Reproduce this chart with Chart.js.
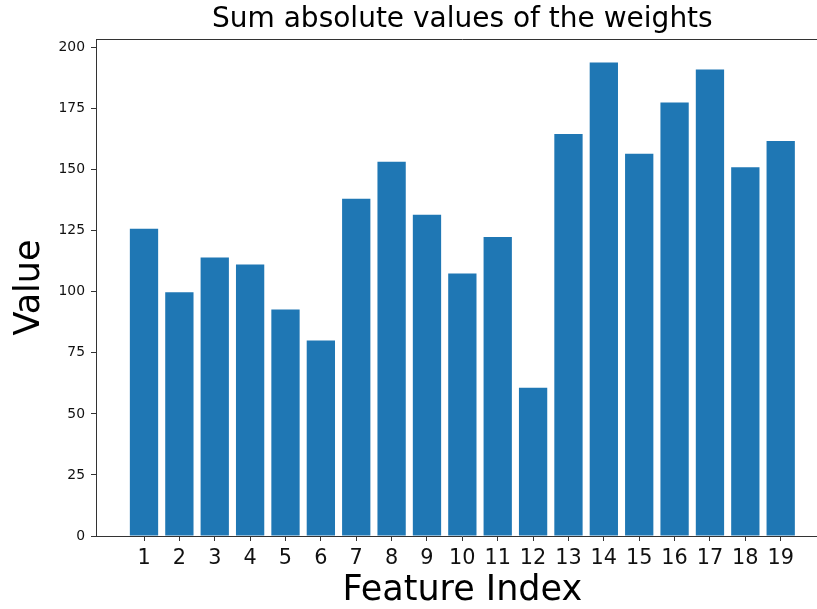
<!DOCTYPE html>
<html>
<head>
<meta charset="utf-8">
<script src="https://cdn.jsdelivr.net/npm/chart.js@4.4.0/dist/chart.umd.min.js"></script>
<style>
    html, body { margin: 0; padding: 0; background: #fff; overflow: hidden; }
    #wrap { width: 830px; height: 609px; position: relative; }
</style>
</head>
<body>
<div id="wrap"><canvas id="weightChart"></canvas></div>
<script>
// 데이터
const features = [1, 2, 3, 4, 5, 6, 7, 8, 9, 10, 11, 12, 13, 14, 15, 16, 17, 18, 19];
const weightSums = [125.8, 99.8, 114.1, 111.2, 92.8, 80.1, 138.1, 153.3, 131.6, 107.5,
                    122.5, 60.7, 164.6, 193.9, 156.6, 177.5, 191.1, 151.0, 161.8];
const yTicks = [0, 25, 50, 75, 100, 125, 150, 175, 200];

const FONT = 'DejaVu Sans';
const AXIS_COLOR = '#333';

// 위쪽/오른쪽 테두리
const frameLines = {
    id: 'frameLines',
    afterDraw(chart) {
        const { ctx, chartArea: a } = chart;
        ctx.save();
        ctx.strokeStyle = AXIS_COLOR;
        ctx.lineWidth = 1;
        ctx.beginPath();
        ctx.moveTo(a.left, a.top + 0.5);
        ctx.lineTo(a.right, a.top + 0.5);
        ctx.lineTo(a.right, a.bottom);
        ctx.stroke();
        ctx.restore();
    }
};

const ctx = document.getElementById('weightChart').getContext('2d');

new Chart(ctx, {
    type: 'bar',
    data: {
        datasets: [{
            data: features.map((f, i) => ({ x: f, y: weightSums[i] })),
            backgroundColor: '#1f77b4',
            borderWidth: 0,
            categoryPercentage: 1.0,
            barPercentage: 0.8
        }]
    },
    plugins: [frameLines],
    options: {
        responsive: true,
        maintainAspectRatio: false,
        animation: false,
        devicePixelRatio: 1,
        layout: { padding: { left: 0, right: 1.3, top: 0, bottom: 0 } },
        scales: {
            x: {
                type: 'linear',
                offset: false,
                min: -0.357,
                max: 20.357,
                afterBuildTicks: scale => { scale.ticks = features.map(v => ({ value: v })); },
                afterFit: scale => { scale.height = 73; },
                grid: { offset: false, drawOnChartArea: false, tickLength: 5, color: AXIS_COLOR },
                border: { display: true, color: AXIS_COLOR, width: 1 },
                ticks: {
                    font: { family: FONT, size: 20.8 },
                    color: '#111',
                    padding: 5,
                    maxRotation: 0,
                    autoSkip: false,
                    callback: value => String(value)
                },
                title: {
                    display: true,
                    text: 'Feature Index',
                    font: { family: FONT, size: 35, lineHeight: 1.04 },
                    color: '#000',
                    padding: { top: 0, bottom: 0 }
                }
            },
            y: {
                min: 0,
                max: 203.55,
                afterBuildTicks: scale => { scale.ticks = yTicks.map(v => ({ value: v })); },
                afterFit: scale => { scale.width = 96; },
                grid: { drawOnChartArea: false, tickLength: 5, color: AXIS_COLOR },
                border: { display: true, color: AXIS_COLOR, width: 1 },
                ticks: {
                    font: { family: FONT, size: 13.9 },
                    color: '#111',
                    padding: 6,
                    callback: value => String(value)
                },
                title: {
                    display: true,
                    text: 'Value',
                    font: { family: FONT, size: 35, lineHeight: 1.04 },
                    color: '#000',
                    padding: { top: 11.4, bottom: 0 }
                }
            }
        },
        plugins: {
            legend: { display: false },
            tooltip: { enabled: false },
            title: {
                display: true,
                fullSize: false,
                text: 'Sum absolute values of the weights',
                font: { family: FONT, size: 28, weight: 'normal', lineHeight: 1.2 },
                color: '#000',
                padding: { top: 2.8, bottom: 2.6 }
            }
        }
    }
});
</script>
</body>
</html>
